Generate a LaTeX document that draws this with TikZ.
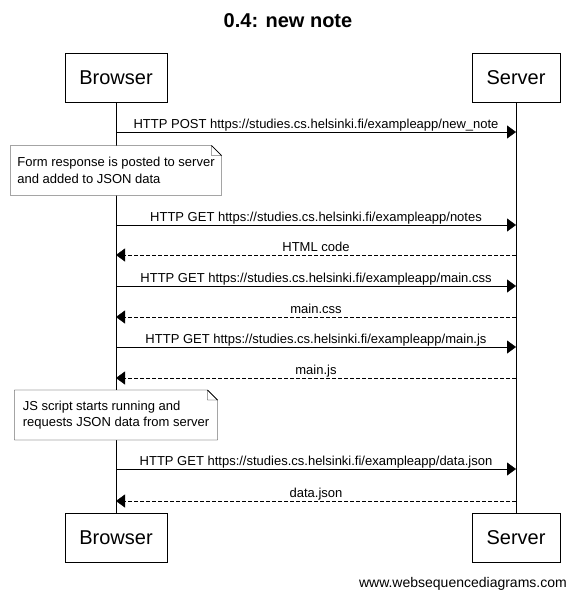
\documentclass[tikz,border=0pt]{standalone}
\usepackage{fontspec}
\setmainfont{Liberation Sans}
\usetikzlibrary{arrows.meta}
\pgfdeclarelayer{bg}
\pgfsetlayers{bg,main}

\tikzset{
  actor/.style={draw, fill=white, font=\fontsize{20}{24}\selectfont, minimum height=49pt, inner sep=0pt},
  msg/.style={-{Triangle[length=9pt, width=13pt]}},
  reply/.style={msg, dash pattern=on 4pt off 2pt},
  lbl/.style={anchor=base, yshift=3.5pt, inner sep=0pt, font=\fontsize{13}{15}\selectfont},
  notetext/.style={font=\fontsize{13}{16.5}\selectfont, align=left, inner sep=2pt, minimum height=49pt},
  notebox/.style={draw, fill=white}
}

\begin{document}
\begin{tikzpicture}[x=1pt, y=-1pt, line width=1pt]
    \useasboundingbox (0,0) rectangle (575,597);

    \node[font=\bfseries\fontsize{20}{24}\selectfont] (title) at (288,21) {0.4: new note};

    \node[actor, minimum width=102pt] (browser) at (116,77.5) {Browser};
    \node[actor, minimum width=88pt] (server) at (516,77.5) {Server};
    \node[actor, minimum width=102pt] (browser2) at (116,538) {Browser};
    \node[actor, minimum width=88pt] (server2) at (516,538) {Server};

    \foreach \y [count=\i] in {132,225,255,286,317,347,378,469,501} {
      \coordinate (b\i) at (116,\y);
      \coordinate (s\i) at (516,\y);
    }

    \node[notetext, minimum width=210pt] (note1) at (116,170.5)
      {Form response is posted to server\\and added to JSON data};
    \node[notetext, minimum width=202pt] (note2) at (116,415)
      {JS script starts running and\\requests JSON data from server};

    \begin{pgfonlayer}{bg}
      \draw (browser) -- (browser2);
      \draw (server) -- (server2);
      \foreach \n in {note1, note2} {
        \draw[notebox] (\n.south west) -- (\n.south east)
          -- ([yshift=-10pt]\n.north east) -- ([xshift=-10pt]\n.north east)
          -- (\n.north west) -- cycle;
        \draw ([xshift=-10pt]\n.north east) |- ([yshift=-10pt]\n.north east)
          -- ([xshift=-10pt]\n.north east);
      }
    \end{pgfonlayer}

    \draw[msg] (b1) -- node[lbl] {HTTP POST https://studies.cs.helsinki.fi/exampleapp/new\_note} (s1);
    \draw[msg] (b2) -- node[lbl] {HTTP GET https://studies.cs.helsinki.fi/exampleapp/notes} (s2);
    \draw[reply] (s3) -- node[lbl] {HTML code} (b3);
    \draw[msg] (b4) -- node[lbl] {HTTP GET https://studies.cs.helsinki.fi/exampleapp/main.css} (s4);
    \draw[reply] (s5) -- node[lbl] {main.css} (b5);
    \draw[msg] (b6) -- node[lbl] {HTTP GET https://studies.cs.helsinki.fi/exampleapp/main.js} (s6);
    \draw[reply] (s7) -- node[lbl] {main.js} (b7);
    \draw[msg] (b8) -- node[lbl] {HTTP GET https://studies.cs.helsinki.fi/exampleapp/data.json} (s8);
    \draw[reply] (s9) -- node[lbl] {data.json} (b9);

    \node[anchor=base east, inner sep=0pt, font=\fontsize{14}{16}\selectfont] (wsd) at (567,587) {www.websequencediagrams.com};
  \end{tikzpicture}
\end{document}
